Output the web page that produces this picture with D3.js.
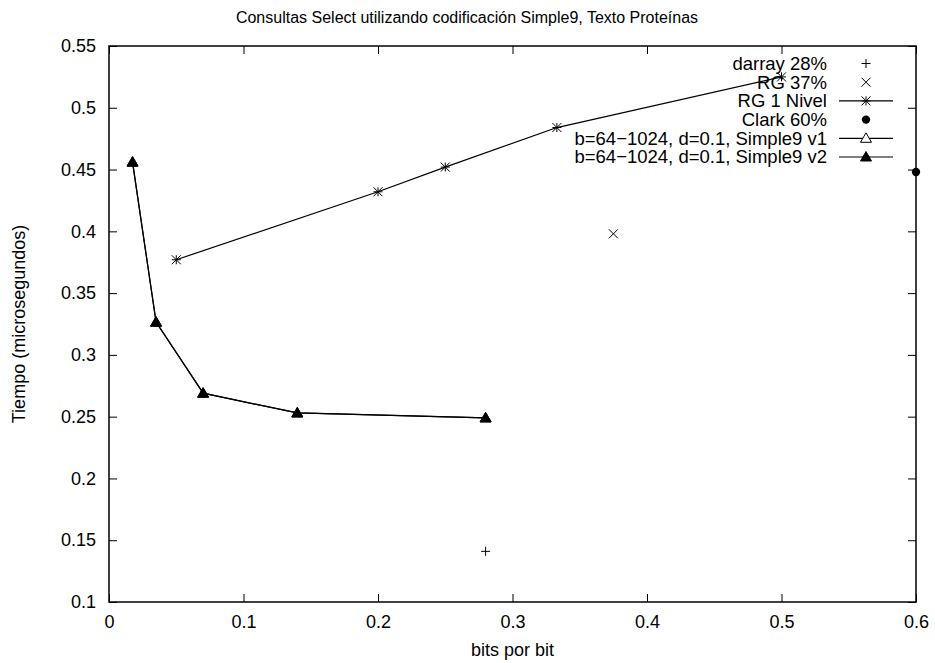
<!DOCTYPE html>
<html>
<head>
<meta charset="utf-8">
<script src="https://cdn.jsdelivr.net/npm/d3@7"></script>
<style>
  body { margin: 0; background: #fff; }
  text { font-family: "Liberation Sans", Arial, sans-serif; fill: #000; }
</style>
</head>
<body>
<div id="chart"></div>
<script>
// data
const darrayX = [0.28], darrayY = [0.141];
const rgX = [0.375], rgY = [0.398];
const rg1X = [0.05, 0.2, 0.25, 0.333, 0.5];
const rg1Y = [0.377, 0.432, 0.452, 0.484, 0.525];
const clarkX = [0.6], clarkY = [0.448];
const s9X = [0.0175, 0.035, 0.07, 0.14, 0.28];
const s9v1Y = [0.456, 0.3265, 0.269, 0.253, 0.249];
const s9v2Y = [0.456, 0.3265, 0.269, 0.253, 0.249];

const xTicks = [0, 0.1, 0.2, 0.3, 0.4, 0.5, 0.6];
const yTicks = [0.1, 0.15, 0.2, 0.25, 0.3, 0.35, 0.4, 0.45, 0.5, 0.55];

const series = [
    { label: "darray 28%", xs: darrayX, ys: darrayY, marker: "plus", line: false },
    { label: "RG 37%", xs: rgX, ys: rgY, marker: "cross", line: false },
    { label: "RG 1 Nivel", xs: rg1X, ys: rg1Y, marker: "star", line: true },
    { label: "Clark 60%", xs: clarkX, ys: clarkY, marker: "dot", line: false },
    { label: "b=64\u22121024, d=0.1, Simple9 v1", xs: s9X, ys: s9v1Y, marker: "tri", line: true },
    { label: "b=64\u22121024, d=0.1, Simple9 v2", xs: s9X, ys: s9v2Y, marker: "trifill", line: true }
];

const width = 935, height = 663;
const margin = { top: 46, right: 19, bottom: 61, left: 109 };
const iw = width - margin.left - margin.right;
const ih = height - margin.top - margin.bottom;
const fs = "18px";

const svg = d3.select("#chart").append("svg")
    .attr("width", width)
    .attr("height", height);

const x = d3.scaleLinear().domain([0, 0.6]).range([0, iw]);
const y = d3.scaleLinear().domain([0.1, 0.55]).range([ih, 0]);

const g = svg.append("g")
    .attr("transform", `translate(${margin.left},${margin.top})`);

// ticks on all four sides, pointing inward
const fmt = d => String(+d.toFixed(2));
g.append("g").attr("transform", `translate(0,${ih})`)
    .call(d3.axisBottom(x).tickValues(xTicks).tickSizeInner(-8).tickSizeOuter(0).tickPadding(13).tickFormat(fmt));
g.append("g")
    .call(d3.axisLeft(y).tickValues(yTicks).tickSizeInner(-8).tickSizeOuter(0).tickPadding(13).tickFormat(fmt));
g.append("g")
    .call(d3.axisTop(x).tickValues(xTicks).tickSizeInner(-8).tickSizeOuter(0).tickFormat(""));
g.append("g").attr("transform", `translate(${iw},0)`)
    .call(d3.axisRight(y).tickValues(yTicks).tickSizeInner(-8).tickSizeOuter(0).tickFormat(""));

g.selectAll(".domain").remove();
g.selectAll(".tick line").attr("stroke", "#000").attr("stroke-width", 1);
g.selectAll(".tick text").style("font-size", fs).attr("fill", "#000");

g.append("rect")
    .attr("width", iw).attr("height", ih)
    .attr("fill", "none").attr("stroke", "#000").attr("stroke-width", 1.5);

// Marker drawing helper
function drawMarker(sel, type, cx, cy) {
    const m = sel.append("g").attr("transform", `translate(${cx},${cy})`);
    const s = 4.5;
    if (type === "plus") {
        m.append("path").attr("d", `M${-s},0H${s}M0,${-s}V${s}`).attr("stroke", "#000").attr("stroke-width", 1);
    } else if (type === "cross") {
        m.append("path").attr("d", `M${-s},${-s}L${s},${s}M${-s},${s}L${s},${-s}`).attr("stroke", "#000").attr("stroke-width", 1);
    } else if (type === "star") {
        m.append("path").attr("d", `M${-s},0H${s}M0,${-s}V${s}M${-s},${-s}L${s},${s}M${-s},${s}L${s},${-s}`).attr("stroke", "#000").attr("stroke-width", 1);
    } else if (type === "dot") {
        m.append("circle").attr("r", 4.2).attr("fill", "#000");
    } else if (type === "tri" || type === "trifill") {
        m.append("path").attr("d", "M0,-5.5L5.5,4L-5.5,4Z")
            .attr("fill", type === "trifill" ? "#000" : "#fff")
            .attr("stroke", "#000").attr("stroke-width", 1);
    }
}

const line = d3.line().x(d => x(d[0])).y(d => y(d[1]));

series.forEach(s => {
    const pts = s.xs.map((v, i) => [v, s.ys[i]]);
    if (s.line) {
        g.append("path").datum(pts).attr("d", line)
            .attr("fill", "none").attr("stroke", "#000").attr("stroke-width", 1.2);
    }
    pts.forEach(p => drawMarker(g, s.marker, x(p[0]), y(p[1])));
});

// Legend
const legend = svg.append("g");
series.forEach((s, i) => {
    const ly = 63.5 + i * 18.7;
    legend.append("text")
        .attr("x", 827).attr("y", ly).attr("dy", "0.35em")
        .attr("text-anchor", "end")
        .style("font-size", "18.5px")
        .text(s.label);
    if (s.line) {
        legend.append("line").attr("x1", 839).attr("x2", 893)
            .attr("y1", ly).attr("y2", ly)
            .attr("stroke", "#000").attr("stroke-width", 1.2);
    }
    drawMarker(legend, s.marker, 866, ly);
});

// Title and axis labels
svg.append("text")
    .attr("x", 467).attr("y", 23)
    .attr("text-anchor", "middle")
    .style("font-size", "16px")
    .text("Consultas Select utilizando codificación Simple9, Texto Proteínas");

svg.append("text")
    .attr("x", margin.left + iw / 2).attr("y", 656)
    .attr("text-anchor", "middle")
    .style("font-size", fs)
    .text("bits por bit");

svg.append("text")
    .attr("transform", `translate(25,${margin.top + ih / 2}) rotate(-90)`)
    .attr("text-anchor", "middle")
    .style("font-size", fs)
    .text("Tiempo (microsegundos)");
</script>
</body>
</html>
